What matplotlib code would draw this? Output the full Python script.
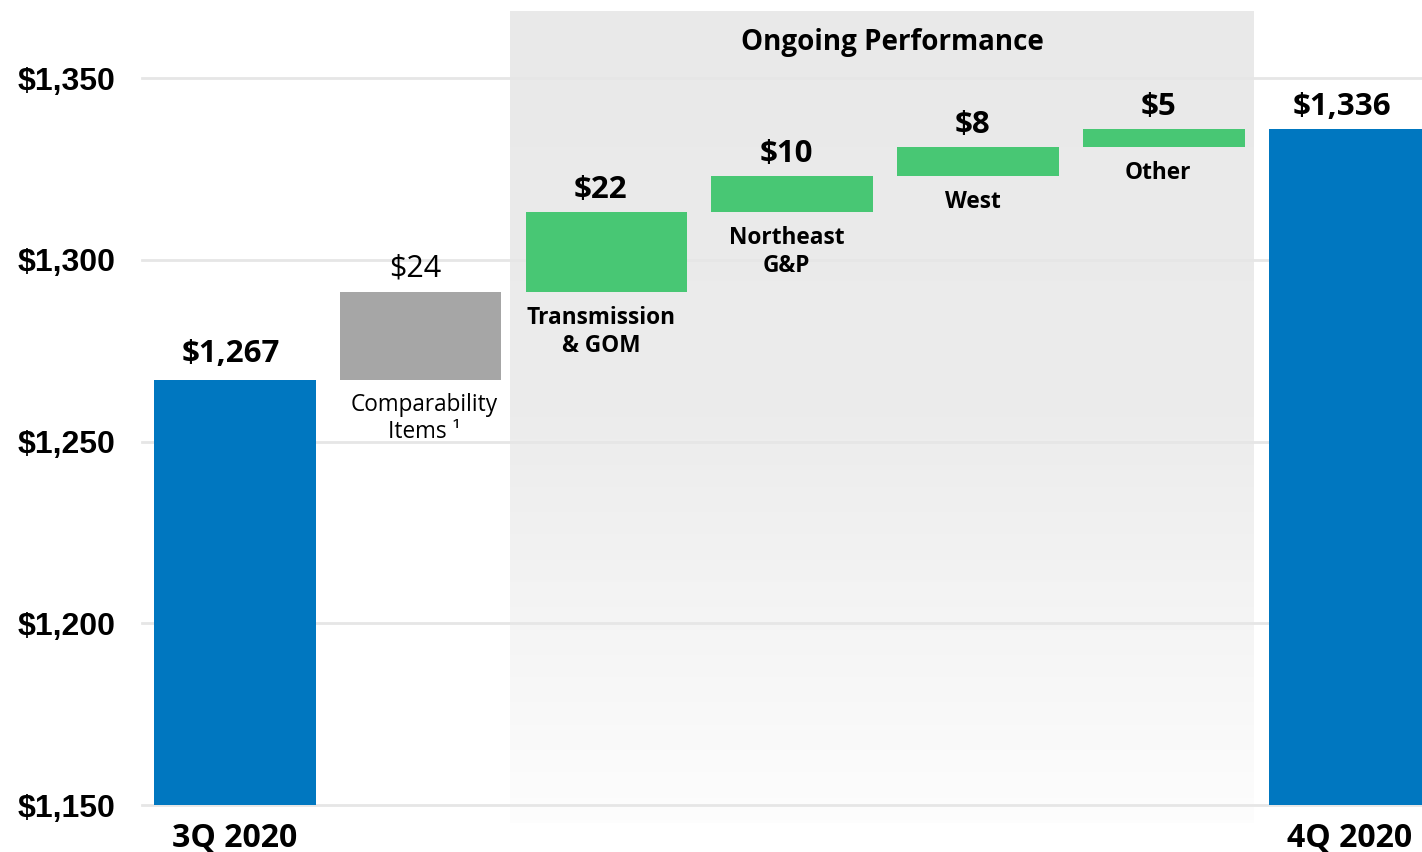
import numpy as np
import matplotlib
matplotlib.use("Agg")
import matplotlib.pyplot as plt
from matplotlib.colors import LinearSegmentedColormap

# data
categories = ["3Q 2020", "Comparability\nItems \u00b9", "Transmission\n& GOM",
              "Northeast\nG&P", "West", "Other", "4Q 2020"]
start_value = 1267
deltas = [24, 22, 10, 8, 5]
end_value = 1336
delta_labels = ["$24", "$22", "$10", "$8", "$5"]
yticks = [1150, 1200, 1250, 1300, 1350]

blue = "#0077C0"
green = "#48C774"
gray = "#A6A6A6"

fig = plt.figure(figsize=(14.22, 8.52), dpi=100)
fig.patch.set_facecolor("white")
ax = fig.add_axes([142 / 1422, 47 / 852, 1 - 142 / 1422, (805 - 12) / 852])
ax.set_facecolor("none")

ymin, ymax = 1150, 1150 + 793 / 3.635
ax.set_ylim(ymin, ymax)
ax.set_xlim(-0.5, 6.39)

# shaded "Ongoing Performance" panel with fade to white
cmap = LinearSegmentedColormap.from_list("fade", ["#E9E9E9", "#ECECEC", "#FDFDFD"])
grad = np.linspace(0, 1, 256).reshape(-1, 1)
ax.imshow(grad, cmap=cmap, extent=(1.48, 5.48, 1145, ymax), aspect="auto",
          origin="upper", zorder=0, clip_on=False)

for y in yticks:
    ax.axhline(y, color="#E6E6E6", lw=2, zorder=1, clip_on=False)

x = np.arange(len(categories))
w = 0.87

# totals
ax.bar(x[0], start_value - ymin, bottom=ymin, width=w, color=blue, zorder=2)
ax.bar(x[-1], end_value - ymin, bottom=ymin, width=w, color=blue, zorder=2)

# bridge steps
bottoms = start_value + np.concatenate([[0], np.cumsum(deltas)[:-1]])
colors = [gray] + [green] * (len(deltas) - 1)
ax.bar(x[1:-1], deltas, bottom=bottoms, width=w, color=colors, zorder=2)

bold = dict(family="Open Sans", weight="bold", color="black")

ax.text(x[0] - 0.02, start_value + 2.9, f"${start_value:,}", ha="center", va="bottom",
        fontsize=22.5, **bold)
ax.text(x[-1] - 0.04, end_value + 2.0, f"${end_value:,}", ha="center", va="bottom",
        fontsize=22.5, **bold)

for i, (b, d, lab) in enumerate(zip(bottoms, deltas, delta_labels)):
    xi = x[i + 1]
    top = b + d
    if i == 0:
        ax.text(xi - 0.03, top + 2.4, lab, ha="center", va="bottom", fontsize=22,
                family="Open Sans", color="black")
        ax.text(xi + 0.02, b - 3.6, categories[i + 1], ha="center", va="top",
                fontsize=16.3, family="Open Sans", color="black", linespacing=1.2)
    else:
        ax.text(xi - 0.03, top + 2.0, lab, ha="center", va="bottom", fontsize=22.5, **bold)
        ax.text(xi - 0.03, b - 3.8, categories[i + 1], ha="center", va="top",
                fontsize=16.3, linespacing=1.2, **bold)

ax.text(3.54, ymax - 4.3, "Ongoing Performance", ha="center", va="top", fontsize=20, **bold)

ax.set_yticks(yticks)
ax.set_yticklabels([f"${v:,}" for v in yticks], family="Liberation Sans",
                   weight="bold", fontsize=23)
ax.set_xticks([x[0], x[-1]])
ax.set_xticklabels([categories[0], categories[-1]], family="Open Sans",
                   weight="bold", fontsize=23)
ax.tick_params(axis="y", length=0, pad=19)
ax.tick_params(axis="x", length=0, pad=12)
for s in ax.spines.values():
    s.set_visible(False)

fig.savefig("out.png", dpi=100)
